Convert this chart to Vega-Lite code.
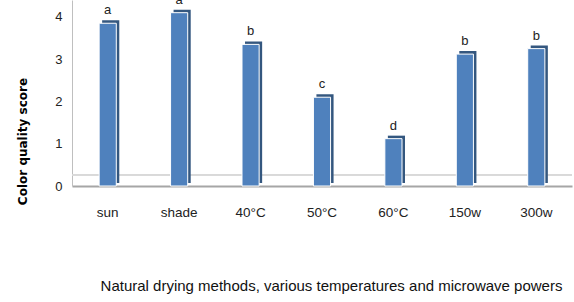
{
  "$schema": "https://vega.github.io/schema/vega-lite/v6.json",
  "autosize": "none",
  "width": 500,
  "height": 186,
  "padding": {"left": 72, "top": 0, "right": 2, "bottom": 116},
  "background": "white",
  "config": {"view": {"stroke": null}},
  "data": {
    "values": [
      {"treatment": "sun", "score": 3.85, "group": "a"},
      {"treatment": "shade", "score": 4.1, "group": "a"},
      {"treatment": "40°C", "score": 3.35, "group": "b"},
      {"treatment": "50°C", "score": 2.1, "group": "c"},
      {"treatment": "60°C", "score": 1.12, "group": "d"},
      {"treatment": "150w", "score": 3.12, "group": "b"},
      {"treatment": "300w", "score": 3.25, "group": "b"}
    ]
  },
  "encoding": {
    "x": {
      "field": "treatment",
      "type": "nominal",
      "sort": null,
      "scale": {"paddingInner": 0.76, "paddingOuter": 0.38},
      "axis": {
        "labelAngle": 0,
        "labelFont": "Liberation Sans",
        "labelFontSize": 13.5,
        "labelColor": "#222",
        "labelPadding": 19,
        "ticks": false,
        "domainColor": "#a6a6a6",
        "domainWidth": 2,
        "title": "Natural drying methods, various temperatures and microwave powers",
        "titleFont": "Liberation Sans",
        "titleFontSize": 15,
        "titleFontWeight": "normal",
        "titleColor": "#111",
        "titleX": 259,
        "titleY": 99,
        "titleAnchor": null,
        "titleAlign": "center",
        "titleBaseline": "middle"
      }
    }
  },
  "layer": [
    {
      "mark": {"type": "rule", "color": "#d9d9d9", "strokeWidth": 1},
      "encoding": {"y": {"datum": 0.26, "type": "quantitative"}, "x": null}
    },
    {
      "mark": {"type": "bar", "color": "#34577f", "xOffset": 3, "yOffset": -3},
      "encoding": {
        "y": {"field": "score", "type": "quantitative"}
      }
    },
    {
      "mark": {"type": "bar", "color": "#4f81bd", "stroke": "white", "strokeWidth": 1},
      "encoding": {
        "y": {
          "field": "score",
          "type": "quantitative",
          "scale": {"domain": [0, 4.4], "nice": false},
          "axis": {
            "values": [0, 1, 2, 3, 4],
            "grid": false,
            "ticks": false,
            "labelFont": "Liberation Sans",
            "labelFontSize": 13,
            "labelColor": "#222",
            "labelPadding": 10,
            "domainColor": "#bfbfbf",
            "title": "Color quality score",
            "titleFont": "DejaVu Sans",
            "titleFontSize": 12,
            "titleFontWeight": "bold",
            "titleColor": "#000",
            "titleAngle": 270,
            "titleX": -50,
            "titleY": 141,
            "titleAlign": "center",
            "titleBaseline": "middle"
          }
        }
      }
    },
    {
      "mark": {"type": "text", "dy": -13, "font": "Liberation Sans", "fontSize": 13, "color": "#222"},
      "encoding": {
        "y": {"field": "score", "type": "quantitative"},
        "text": {"field": "group"}
      }
    }
  ]
}
